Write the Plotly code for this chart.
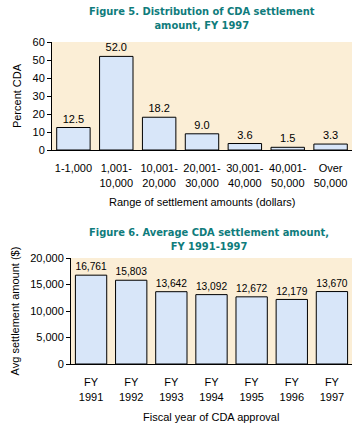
import plotly.graph_objects as go

# ---- Data ----
ranges = ["1-1,000", "1,001-<br>10,000", "10,001-<br>20,000", "20,001-<br>30,000",
          "30,001-<br>40,000", "40,001-<br>50,000", "Over<br>50,000"]
percent_cda = [12.5, 52.0, 18.2, 9.0, 3.6, 1.5, 3.3]

years = ["FY<br>1991", "FY<br>1992", "FY<br>1993", "FY<br>1994",
         "FY<br>1995", "FY<br>1996", "FY<br>1997"]
avg_amount = [16761, 15803, 13642, 13092, 12672, 12179, 13670]

title5 = "Figure 5. Distribution of CDA settlement<br>amount, FY 1997"
title6 = "Figure 6. Average CDA settlement amount,<br>FY 1991-1997"

W, H = 357, 430
FONT = "Liberation Sans, Arial, sans-serif"
TITLE_FONT = "DejaVu Sans Condensed, Liberation Sans Narrow, sans-serif"
TEAL = "#0f7c7c"
BAR = "#d8e6f9"
BG = "#fbeed6"

def px_x(p):
    return p / W

def px_y(p):
    return 1 - p / H

fig = go.Figure()

fig.add_trace(go.Bar(
    x=ranges, y=percent_cda, xaxis="x", yaxis="y",
    marker=dict(color=BAR, line=dict(color="black", width=1)),
    text=percent_cda, texttemplate="%{y:.1f}", textposition="outside",
    textfont=dict(family=FONT, size=11, color="black"),
    cliponaxis=False, hoverinfo="x+y"))

fig.add_trace(go.Bar(
    x=years, y=avg_amount, xaxis="x2", yaxis="y2",
    marker=dict(color=BAR, line=dict(color="black", width=1)),
    text=avg_amount, texttemplate="%{y:,d}", textposition="outside",
    textfont=dict(family=FONT, size=11, color="black"),
    cliponaxis=False, hoverinfo="x+y"))

xaxis_common = dict(showgrid=False, zeroline=False, showline=True, linecolor="black",
                    linewidth=1, ticks="", ticklabelstandoff=8, automargin=False,
                    tickfont=dict(family=FONT, size=11, color="black"))
yaxis_common = dict(showgrid=False, zeroline=False, showline=True, linecolor="black",
                    linewidth=1, ticks="outside", ticklen=4, tickcolor="black",
                    automargin=False,
                    tickfont=dict(family=FONT, size=11, color="black"))

fig.update_layout(
    template="none",
    width=W, height=H, margin=dict(l=0, r=0, t=0, b=0, pad=0),
    paper_bgcolor="white", plot_bgcolor=BG,
    showlegend=False, bargap=0.22,
    font=dict(family=FONT, size=11, color="black"),
    xaxis=dict(domain=[px_x(52), px_x(352)], anchor="y", **xaxis_common),
    yaxis=dict(domain=[px_y(150), px_y(42)], anchor="x", range=[0, 60], dtick=10,
               title=dict(text="Percent CDA", standoff=8,
                          font=dict(family=FONT, size=11, color="black")),
               **yaxis_common),
    xaxis2=dict(domain=[px_x(71), px_x(352)], anchor="y2", **xaxis_common),
    yaxis2=dict(domain=[px_y(364), px_y(258)], anchor="x2", range=[0, 20000], dtick=5000,
                tickformat=",d",
                title=dict(text="Avg settlement amount ($)", standoff=8,
                           font=dict(family=FONT, size=11, color="black")),
                **yaxis_common),
)

annots = [
    dict(text=title5, x=px_x(202), y=px_y(3), xref="paper", yref="paper",
         xanchor="center", yanchor="top", showarrow=False,
         font=dict(family=TITLE_FONT, size=11, color=TEAL, weight="bold")),
    dict(text=title6, x=px_x(209), y=px_y(224), xref="paper", yref="paper",
         xanchor="center", yanchor="top", showarrow=False,
         font=dict(family=TITLE_FONT, size=11, color=TEAL, weight="bold")),
    dict(text="Range of settlement amounts (dollars)", x=px_x(202), y=px_y(202),
         xref="paper", yref="paper", xanchor="center", yanchor="middle", showarrow=False,
         font=dict(family=FONT, size=11, color="black")),
    dict(text="Fiscal year of CDA approval", x=px_x(211), y=px_y(417),
         xref="paper", yref="paper", xanchor="center", yanchor="middle", showarrow=False,
         font=dict(family=FONT, size=11, color="black")),
]
fig.update_layout(annotations=annots)

fig.write_html("out.html", config={"displayModeBar": False},
               post_script="document.body.style.margin='0';document.body.style.overflow='hidden';")
